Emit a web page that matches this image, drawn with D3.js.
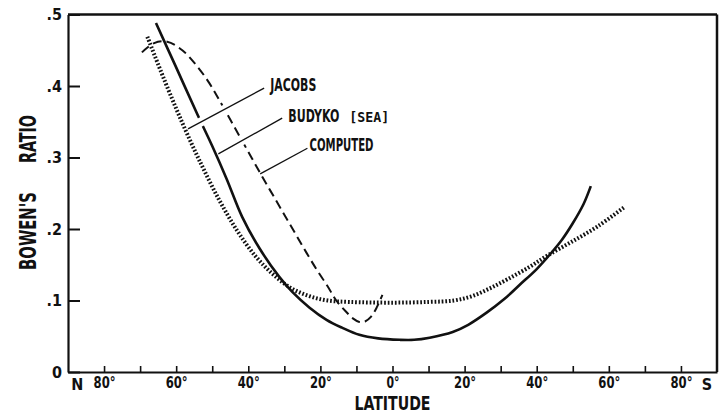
<!DOCTYPE html>
<html><head><meta charset="utf-8">
<script src="https://cdn.jsdelivr.net/npm/d3@7"></script>
<style>
body{margin:0;background:#fff}
svg{display:block}
text{font-family:"Liberation Sans Narrow","Arial Narrow","DejaVu Sans Condensed",sans-serif;font-weight:bold;fill:#111;font-stretch:condensed}
</style></head><body>
<svg id="c" width="725" height="414"></svg>
<script>
// latitude: negative = North, positive = South
const jacobsLat   = [-68,-63,-58,-53,-48,-43,-38,-33,-28,-23,-18,-12,0,10,17,22,27,32,38,43,50,57,64.4];
const jacobsRatio = [0.469,0.405,0.345,0.290,0.240,0.197,0.162,0.136,0.117,0.106,0.100,0.098,0.097,0.098,0.100,0.106,0.117,0.130,0.147,0.163,0.183,0.204,0.231];

const budykoLat   = [-65.6,-60,-54,-50,-46,-41.7,-36.9,-31.4,-27.8,-23,-18.3,-14,-9.2,-4,2,6,10.3,16.7,21,26.1,31,35.3,40,43.6,47,50,53,55];
const budykoRatio = [0.488,0.426,0.359,0.316,0.270,0.217,0.173,0.133,0.112,0.090,0.073,0.062,0.052,0.047,0.045,0.045,0.048,0.056,0.066,0.083,0.102,0.122,0.144,0.164,0.185,0.208,0.235,0.26];

const computedLat   = [-69.5,-66.1,-62.5,-58.3,-54.4,-50.8,-48,-45,-42,-39,-36,-33,-30,-27,-24,-21,-18,-15.6,-13,-11,-9.2,-7.5,-6,-4.4,-2.8];
const computedRatio = [0.447,0.460,0.462,0.450,0.429,0.404,0.380,0.353,0.326,0.299,0.272,0.246,0.220,0.194,0.168,0.143,0.120,0.100,0.085,0.075,0.070,0.071,0.077,0.090,0.108];

const xTickValues = [-80,-70,-60,-50,-40,-30,-20,-10,0,10,20,30,40,50,60,70,80];
const yTickValues = [0,0.1,0.2,0.3,0.4,0.5];
const yTickLabels = ["0",".1",".2",".3",".4",".5"];

const labelNames  = ["JACOBS","BUDYKO","COMPUTED"];
const leaderStart = [[-56.7,0.340],[-48.3,0.305],[-36.7,0.277]];
const leaderEnd   = [[-35.6,0.397],[-30.6,0.355],[-23.6,0.313]];
const labelAt     = [[-33.9,0.393],[-28.9,0.350],[-23.0,0.309]];

const svg = d3.select("#c");
const x = d3.scaleLinear().domain([-90,90]).range([68,717]);
const y = d3.scaleLinear().domain([0,0.5]).range([372,14.5]);
const ink = "#111";

// frame top & right
svg.append("line").attr("x1",x(-90)).attr("x2",x(90)).attr("y1",y(0.5)).attr("y2",y(0.5)).attr("stroke",ink).attr("stroke-width",2.5);
svg.append("line").attr("x1",x(90)).attr("x2",x(90)).attr("y1",y(0.5)).attr("y2",y(0)).attr("stroke",ink).attr("stroke-width",2.5);

// x axis
const gx = svg.append("g").attr("transform",`translate(0,${y(0)})`)
  .call(d3.axisBottom(x).tickValues(xTickValues).tickSize(-6).tickSizeOuter(0).tickPadding(5)
    .tickFormat(d => d % 20 === 0 ? Math.abs(d) + "°" : ""));
gx.attr("font-family",null);
gx.select(".domain").attr("stroke",ink).attr("stroke-width",2.2);
gx.selectAll(".tick line").attr("stroke",ink).attr("stroke-width",1.6);
gx.selectAll(".tick text").attr("font-size",16).attr("fill",ink)
  .filter(function(){ return this.textContent.length > 0; })
  .attr("textLength", function(){ return this.textContent.length > 2 ? 22 : 13; })
  .attr("lengthAdjust","spacingAndGlyphs");
svg.append("text").attr("x",x(-87.4)).attr("y",y(0)+18).attr("text-anchor","middle").attr("font-size",16).text("N");
svg.append("text").attr("x",x(87.2)).attr("y",y(0)+18).attr("text-anchor","middle").attr("font-size",16).text("S");

// y axis
const gy = svg.append("g").attr("transform",`translate(${x(-90)},0)`)
  .call(d3.axisLeft(y).tickValues(yTickValues).tickSize(-12).tickSizeOuter(0).tickPadding(6)
    .tickFormat((d,i) => yTickLabels[i]));
gy.attr("font-family",null);
gy.select(".domain").attr("stroke",ink).attr("stroke-width",2.2);
gy.selectAll(".tick line").attr("stroke",ink).attr("stroke-width",2);
gy.selectAll(".tick text").attr("font-size",16).attr("fill",ink);

// titles
svg.append("text").attr("x",x(0)).attr("y",410).attr("text-anchor","middle").attr("font-size",20)
  .attr("textLength",76).attr("lengthAdjust","spacingAndGlyphs").text("LATITUDE");
svg.append("text").attr("transform","translate(36,231) rotate(-90)").attr("text-anchor","middle").attr("font-size",23)
  .attr("textLength",78).attr("lengthAdjust","spacingAndGlyphs").text("BOWEN'S");
svg.append("text").attr("transform","translate(36,139) rotate(-90)").attr("text-anchor","middle").attr("font-size",23)
  .attr("textLength",48).attr("lengthAdjust","spacingAndGlyphs").text("RATIO");

// curves
const line = d3.line().x(d => x(d[0])).y(d => y(d[1])).curve(d3.curveCatmullRom.alpha(0.5));
const series = [
  {lat: jacobsLat,   val: jacobsRatio,   w: 4,   dash: "1.7,1.9"},
  {lat: budykoLat,   val: budykoRatio,   w: 2.6, dash: null},
  {lat: computedLat, val: computedRatio, w: 2,   dash: "9,5"}
];
series.forEach(s => {
  svg.append("path").datum(s.lat.map((l,i) => [l, s.val[i]]))
    .attr("d", line).attr("fill","none").attr("stroke",ink)
    .attr("stroke-width", s.w).attr("stroke-dasharray", s.dash);
});

// leader lines with small white gaps where they cross curves
const haloRange = [[0.1,0.5],[0.2,0.45],null];
labelNames.forEach((name,i) => {
  const [a0,b0] = leaderStart[i], [a1,b1] = leaderEnd[i];
  const X0 = x(a0), Y0 = y(b0), X1 = x(a1), Y1 = y(b1);
  const h = haloRange[i];
  if (h) {
    svg.append("line")
      .attr("x1", X0 + (X1-X0)*h[0]).attr("y1", Y0 + (Y1-Y0)*h[0])
      .attr("x2", X0 + (X1-X0)*h[1]).attr("y2", Y0 + (Y1-Y0)*h[1])
      .attr("stroke","#fff").attr("stroke-width",9);
  }
  svg.append("line").attr("x1",X0).attr("y1",Y0).attr("x2",X1).attr("y2",Y1)
    .attr("stroke",ink).attr("stroke-width",1.3);
});

// labels, horizontally scaled to the condensed widths of the original
function fitText(px, py, str, size, target, weight, family) {
  const t = svg.append("text").attr("font-size",size).text(str);
  if (weight) t.attr("font-weight",weight);
  if (family) t.style("font-family",family);
  const w = t.node().getComputedTextLength();
  t.attr("transform",`translate(${px},${py}) scale(${target / w},1)`);
  return t;
}
const labelLen = [46,51,64];
labelNames.forEach((name,i) => {
  fitText(x(labelAt[i][0]), y(labelAt[i][1]), name, 17, labelLen[i]);
});
fitText(x(labelAt[1][0]) + 61, y(labelAt[1][1]), "[SEA]", 14, 40, "normal", "'DejaVu Sans Mono',monospace");
</script></body></html>
